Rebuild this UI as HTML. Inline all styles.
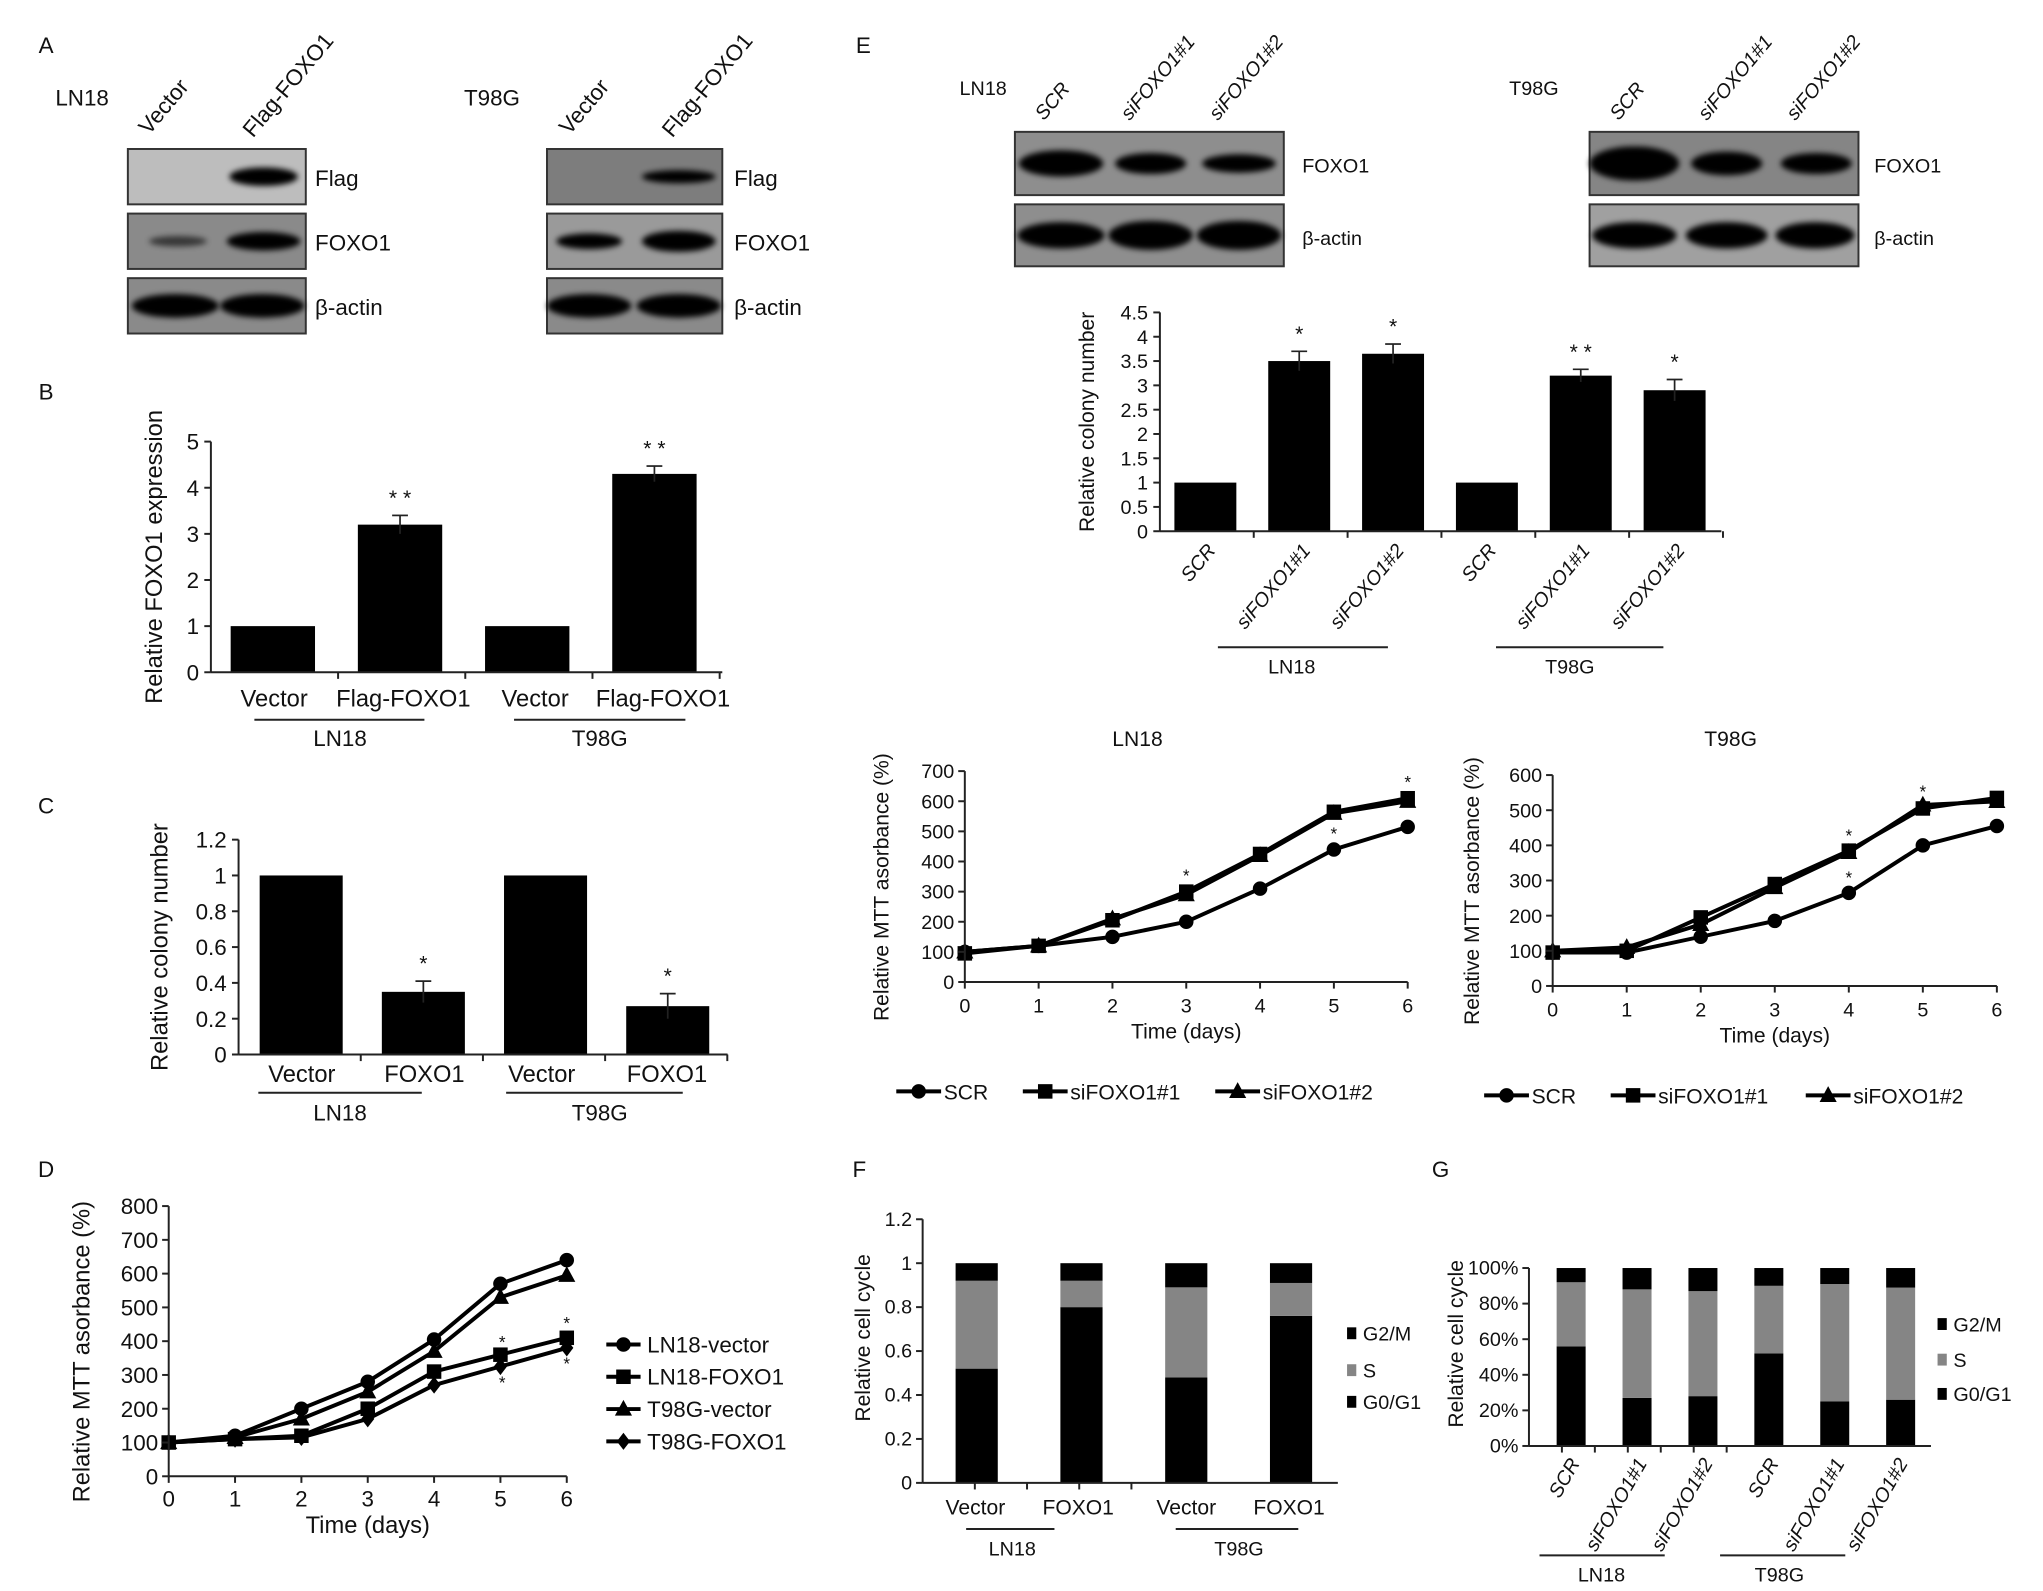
<!DOCTYPE html>
<html><head><meta charset="utf-8"><style>
html,body{margin:0;padding:0;background:#fff;}
svg{display:block;font-family:"Liberation Sans",Arial,sans-serif;}
</style></head><body>
<svg id="fig" width="2043" height="1591" viewBox="0 0 1550 1207" xmlns="http://www.w3.org/2000/svg">
<defs><filter id="blur" x="-20%" y="-50%" width="140%" height="200%"><feGaussianBlur stdDeviation="2.2"/></filter></defs>
</svg>
<script>
// ---------- DATA ----------
const bCats = ["Vector","Flag-FOXO1","Vector","Flag-FOXO1"];
const bVals = [1, 3.2, 1, 4.3];
const bErr = [0, 0.2, 0, 0.17];
const bTicks = [0,1,2,3,4,5];

const cCats = ["Vector","FOXO1","Vector","FOXO1"];
const cVals = [1, 0.35, 1, 0.27];
const cErr = [0, 0.06, 0, 0.07];
const cTicks = ["0","0.2","0.4","0.6","0.8","1","1.2"];

const eCats = ["SCR","siFOXO1#1","siFOXO1#2","SCR","siFOXO1#1","siFOXO1#2"];
const eVals = [1, 3.5, 3.65, 1, 3.2, 2.9];
const eErr = [0, 0.2, 0.2, 0, 0.13, 0.22];
const eStars = ["", "*", "*", "", "* *", "*"];
const eTicks = ["0","0.5","1","1.5","2","2.5","3","3.5","4","4.5"];

const days = [0,1,2,3,4,5,6];
const dNames = ["LN18-vector","LN18-FOXO1","T98G-vector","T98G-FOXO1"];
const dLN18vec = [100,120,200,280,405,570,640];
const dLN18foxo = [100,110,120,200,310,360,410];
const dT98Gvec = [100,115,170,250,370,530,595];
const dT98Gfoxo = [100,110,115,170,270,325,380];
const dTicks = [0,100,200,300,400,500,600,700,800];

const mNames = ["SCR","siFOXO1#1","siFOXO1#2"];
const mLnSCR = [100,120,150,200,310,440,515];
const mLnSi1 = [95,120,205,300,425,565,610];
const mLnSi2 = [100,120,210,290,420,560,600];
const mLnTicks = [0,100,200,300,400,500,600,700];
const mTgSCR = [95,95,140,185,265,400,455];
const mTgSi1 = [95,100,195,290,385,505,535];
const mTgSi2 = [100,110,175,280,380,515,525];
const mTgTicks = [0,100,200,300,400,500,600];

const fCats = ["Vector","FOXO1","Vector","FOXO1"];
const fG0 = [0.52, 0.80, 0.48, 0.76];
const fS = [0.40, 0.12, 0.41, 0.15];
const fG2 = [0.08, 0.08, 0.11, 0.09];
const fTicks = ["0","0.2","0.4","0.6","0.8","1","1.2"];

const gCats = ["SCR","siFOXO1#1","siFOXO1#2","SCR","siFOXO1#1","siFOXO1#2"];
const gG0 = [56, 27, 28, 52, 25, 26];
const gS = [36, 61, 59, 38, 66, 63];
const gG2 = [8, 12, 13, 10, 9, 11];
const gTicks = ["0%","20%","40%","60%","80%","100%"];
const phases = ["G2/M","S","G0/G1"];

// ---------- HELPERS ----------
const NS = "http://www.w3.org/2000/svg";
const svg = document.getElementById("fig");
function mk(tag, attrs, parent){
  const e = document.createElementNS(NS, tag);
  for (const k in attrs) e.setAttribute(k, attrs[k]);
  (parent || svg).appendChild(e);
  return e;
}
function txt(x, y, s, size, anchor, rot, extra){
  const a = {x:x, y:y, "font-size":size, "text-anchor":anchor||"middle", fill:"#111"};
  if (rot) a.transform = "rotate(" + rot + " " + x + " " + y + ")";
  if (extra) for (const k in extra) a[k] = extra[k];
  const e = mk("text", a);
  e.textContent = s;
  return e;
}
function ln(x1,y1,x2,y2,w,col){
  return mk("line",{x1:x1,y1:y1,x2:x2,y2:y2,stroke:col||"#222","stroke-width":w||1.5});
}
function marker(type, x, y, g){
  let e;
  if (type === "circle") e = mk("circle",{cx:x,cy:y,r:5.5,fill:"#000"},g);
  else if (type === "square") e = mk("rect",{x:x-5.5,y:y-5.5,width:11,height:11,fill:"#000"},g);
  else if (type === "triangle") e = mk("polygon",{points:(x)+","+(y-7)+" "+(x-6.5)+","+(y+5)+" "+(x+6.5)+","+(y+5),fill:"#000"},g);
  else e = mk("polygon",{points:(x)+","+(y-6.5)+" "+(x+5)+","+(y)+" "+(x)+","+(y+6.5)+" "+(x-5)+","+(y),fill:"#000"},g);
  return e;
}

// ---------- PANEL LETTERS ----------
const letters = [["A",35,40],["B",35,303],["C",35,617],["D",35,893],["E",655,40],["F",652,893],["G",1093,893]];
for (const L of letters){
  const e = txt(L[1], L[2], L[0], 17, "middle");
  
  
}

// ---------- BLOTS ----------
function blot(x, y, w, h, bg, bands, name){
  const g = mk("g", {});
  
  
  mk("rect",{x:x,y:y,width:w,height:h,fill:bg,stroke:"#333","stroke-width":1.5},g);
  for (const b of bands){
    if (b[2] <= 0) continue;
    mk("ellipse",{cx:b[0],cy:y+h/2,rx:b[1],ry:b[2],fill:"#000",opacity:b[3]||1,filter:"url(#blur)"},g);
  }
  return g;
}
// Panel A
let e;
e = txt(42, 80, "LN18", 17, "start");  
e = txt(113, 103, "Vector", 17, "start", -50);  
e = txt(192, 105, "Flag-FOXO1", 17, "start", -50);  
blot(97,113,135,42,"#bdbdbd",[[200,26,7]],"a-ln18-flag-blot");
blot(97,162,135,42,"#8a8a8a",[[135,22,4,0.6],[200,28,7]],"a-ln18-foxo1-blot");
blot(97,211,135,42,"#8a8a8a",[[133,33,9],[199,32,9]],"a-ln18-actin-blot");
e = txt(239,141,"Flag",17,"start");  
e = txt(239,190,"FOXO1",17,"start");  
e = txt(239,239,"β-actin",17,"start");  
e = txt(352, 80, "T98G", 17, "start");  
e = txt(432, 103, "Vector", 17, "start", -50);  
e = txt(510, 105, "Flag-FOXO1", 17, "start", -50);  
blot(415,113,133,42,"#7d7d7d",[[515,28,5]],"a-t98g-flag-blot");
blot(415,162,133,42,"#9a9a9a",[[447,25,6],[515,28,8]],"a-t98g-foxo1-blot");
blot(415,211,133,42,"#8a8a8a",[[447,32,9],[515,32,9]],"a-t98g-actin-blot");
e = txt(557,141,"Flag",17,"start");  
e = txt(557,190,"FOXO1",17,"start");  
e = txt(557,239,"β-actin",17,"start");  

// Panel E blots
e = txt(728, 72, "LN18", 15, "start");  
e = txt(1145, 72, "T98G", 15, "start");  
const eLaneX = [[792,857,924],[1228,1295,1362]];
for (const grp of eLaneX){
  for (let i=0;i<3;i++){
    e = txt(grp[i], 92, mNames[i], 15, "start", -50, {"font-style":"italic"});
    
    
  }
}
blot(770,100,204,48,"#8e8e8e",[[805,32,10],[873,27,8],[940,28,7]],"e-ln18-foxo1-blot");
blot(770,155,204,47,"#8e8e8e",[[805,33,10],[873,32,11],[940,32,11]],"e-ln18-actin-blot");
blot(1206,100,204,48,"#858585",[[1240,34,13],[1310,27,9],[1378,27,8]],"e-t98g-foxo1-blot");
blot(1206,155,204,47,"#a0a0a0",[[1240,32,10],[1310,31,10],[1377,30,10]],"e-t98g-actin-blot");
e = txt(988,131,"FOXO1",15,"start");  
e = txt(988,186,"β-actin",15,"start");  
e = txt(1422,131,"FOXO1",15,"start");  
e = txt(1422,186,"β-actin",15,"start");  

// ---------- GENERIC BAR CHART ----------
function barChart(o){
  const g = mk("g", {});
  
  
  const y = v => o.y0 - (v - 0) / o.max * (o.y0 - o.yTop);
  const x = i => o.x0 + o.pad + i * o.step;
  ln(o.x0, o.y0, o.x1, o.y0, 1.5);
  ln(o.x0, o.y0, o.x0, o.yTop, 1.5);
  for (let k=0;k<o.ticks.length;k++){
    const v = k * o.max / (o.ticks.length-1);
    ln(o.x0-5, y(v), o.x0, y(v), 1.5);
    const t = txt(o.x0-9, y(v)+o.fs*0.36, o.ticks[k], o.fs, "end");
    
    
  }
  for (let i=0;i<=o.vals.length;i++){
    const tx = o.x0 + i*o.step;
    if (i>0) ln(tx, o.y0, tx, o.y0+5, 1.5);
  }
  for (let i=0;i<o.vals.length;i++){
    const b = mk("rect",{x:x(i),y:y(o.vals[i]),width:o.bw,height:o.y0-y(o.vals[i]),fill:"#000"},g);
    
    
    if (o.err[i] > 0){
      const cx = x(i)+o.bw/2;
      ln(cx, y(o.vals[i]+o.err[i]), cx, y(o.vals[i]-o.err[i]), 1.3);
      ln(cx-6, y(o.vals[i]+o.err[i]), cx+6, y(o.vals[i]+o.err[i]), 1.3);
      const st = txt(cx, y(o.vals[i]+o.err[i])-8, o.stars[i], 16, "middle");
      
      
    }
  }
  const yt = txt(o.ytX, (o.y0+o.yTop)/2, o.ytitle, o.fs+1, "middle", -90);
  
  
  return {x:x, y:y};
}

// Panel B
barChart({name:"panel-b-chart", x0:160, x1:548, y0:510, yTop:335, max:5, ticks:bTicks.map(String), vals:bVals, err:bErr,
  stars:["","* *","","* *"], pad:15, step:96.5, bw:64, fs:17, ytX:123, ytitle:"Relative FOXO1 expression"});
const bLx = [208,306,406,503];
for (let i=0;i<bCats.length;i++){ e = txt(bLx[i], 536, bCats[i], 18, "middle");   }
ln(193,546,322,546,1.5); ln(390,546,520,546,1.5);
e = txt(258,566,"LN18",17);  
e = txt(455,566,"T98G",17);  

// Panel C
barChart({name:"panel-c-chart", x0:181, x1:552, y0:800, yTop:637, max:1.2, ticks:cTicks, vals:cVals, err:cErr,
  stars:["","*","","*"], pad:16, step:92.7, bw:63, fs:17, ytX:127, ytitle:"Relative colony number"});
const cLx = [229,322,411,506];
for (let i=0;i<cCats.length;i++){ e = txt(cLx[i], 821, cCats[i], 18, "middle");   }
ln(196,829,320,829,1.5); ln(384,829,518,829,1.5);
e = txt(258,850,"LN18",17);  
e = txt(455,850,"T98G",17);  

// Panel E bar chart
barChart({name:"panel-e-chart", x0:880, x1:1306, y0:403, yTop:237, max:4.5, ticks:eTicks, vals:eVals, err:eErr,
  stars:eStars, pad:11, step:71.2, bw:47, fs:15, ytX:830, ytitle:"Relative colony number"});
const eLx = [915,987,1058,1128,1199,1271];
for (let i=0;i<eCats.length;i++){ e = txt(eLx[i]+8, 418, eCats[i], 15, "end", -50, {"font-style":"italic"});   }
ln(924,491,1053,491,1.5); ln(1135,491,1262,491,1.5);
e = txt(980,511,"LN18",15);  
e = txt(1191,511,"T98G",15);  

// ---------- LINE CHARTS ----------
function lineChart(o){
  const g = mk("g", {});
  
  
  const x = d => o.x0 + d/6 * (o.x1 - o.x0);
  const y = v => o.y0 - v/o.max * (o.y0 - o.yTop);
  ln(o.x0, o.y0, o.x1, o.y0, 1.5);
  ln(o.x0, o.y0, o.x0, o.yTop, 1.5);
  for (const t of o.ticks){
    ln(o.x0-5, y(t), o.x0, y(t), 1.5);
    const tl = txt(o.x0-8, y(t)+o.fs*0.36, String(t), o.fs, "end");
    
    
  }
  for (const d of days){
    ln(x(d), o.y0, x(d), o.y0+5, 1.5);
    const tl = txt(x(d), o.y0+23, String(d), o.fs, "middle");
    
    
  }
  for (let s=0;s<o.series.length;s++){
    const pts = days.map((d,i)=> x(d)+","+y(o.series[s][i])).join(" ");
    const pl = mk("polyline",{points:pts,fill:"none",stroke:"#000","stroke-width":3},g);
    
    
    for (let i=0;i<days.length;i++){
      const m = marker(o.markers[s], x(days[i]), y(o.series[s][i]), g);
      
      
    }
  }
  const yt = txt(o.ytX, (o.y0+o.yTop)/2 + 8, "Relative MTT asorbance (%)", o.fs+1, "middle", -90);
  
  
  const xt = txt((o.x0+o.x1)/2, o.y0+43, "Time (days)", o.fs+1, "middle");
  
  
  return {x:x, y:y};
}

// Panel D
const dAx = lineChart({name:"panel-d-chart", x0:128, x1:430, y0:1120, yTop:915, max:800, ticks:dTicks, fs:17, ytX:68,
  series:[dLN18vec,dLN18foxo,dT98Gvec,dT98Gfoxo], names:dNames, markers:["circle","square","triangle","diamond"]});
const dMk = ["circle","square","triangle","diamond"];
for (let i=0;i<dNames.length;i++){
  const yy = 1020 + i*24.5;
  ln(460, yy, 486, yy, 3, "#000");
  const m = marker(dMk[i], 473, yy);
  
  
  e = txt(491, yy+6, dNames[i], 17, "start");
  
  
}
// stars D
for (const s of [[381,dLN18foxo[5]+40],[430,dLN18foxo[6]+45],[381,dT98Gfoxo[5]-45],[430,dT98Gfoxo[6]-45]]){
  e = txt(s[0], dAx.y(s[1])+5, "*", 13);  
}

// LN18 MTT
const lnAx = lineChart({name:"mtt-ln18-chart", x0:732, x1:1068, y0:745, yTop:585, max:700, ticks:mLnTicks, fs:15, ytX:674,
  series:[mLnSCR,mLnSi1,mLnSi2], names:mNames, markers:["circle","square","triangle"]});
e = txt(863,566,"LN18",16);  
for (const s of [[3,mLnSi1[3]+55],[5,mLnSCR[5]+55],[6,mLnSi1[6]+55]]){
  e = txt(lnAx.x(s[0]), lnAx.y(s[1])+5, "*", 13);  
}
// T98G MTT
const tgAx = lineChart({name:"mtt-t98g-chart", x0:1178, x1:1515, y0:748, yTop:588, max:600, ticks:mTgTicks, fs:15, ytX:1122,
  series:[mTgSCR,mTgSi1,mTgSi2], names:mNames, markers:["circle","square","triangle"]});
e = txt(1313,566,"T98G",16);  
for (const s of [[4,mTgSi1[4]+45],[4,mTgSCR[4]+45],[5,mTgSi1[5]+50]]){
  e = txt(tgAx.x(s[0]), tgAx.y(s[1])+5, "*", 13);  
}
const mMk = ["circle","square","triangle"];
const lgX = [[680,718],[776,808],[922,963],[1126,1163],[1222,1262],[1370,1412]];
for (let p=0;p<2;p++){
  const yy = p===0 ? 828 : 831;
  for (let i=0;i<3;i++){
    const xs = lgX[p*3+i];
    ln(xs[0], yy, xs[0]+34, yy, 3, "#000");
    const m = marker(mMk[i], xs[0]+17, yy);
    
    
    e = txt(xs[0]+36, yy+6, mNames[i], 16, "start");
    
    
  }
}

// ---------- STACKED BARS ----------
function stackChart(o){
  const g = mk("g", {});
  
  
  const y = v => o.y0 - v/o.max * (o.y0 - o.yTop);
  const x = i => o.x0 + o.pad + i*o.step;
  ln(o.x0, o.y0, o.x1, o.y0, 1.5);
  ln(o.x0, o.y0, o.x0, o.yTop, 1.5);
  for (let k=0;k<o.ticks.length;k++){
    const v = k*o.max/(o.ticks.length-1);
    ln(o.x0-5, y(v), o.x0, y(v), 1.5);
    const tl = txt(o.x0-8, y(v)+5, o.ticks[k], o.fs, "end");
    
    
  }
  for (let i=1;i<=o.g0.length;i++) ln(o.x0 + i*o.tickStep, o.y0, o.x0 + i*o.tickStep, o.y0+5, 1.5);
  for (let i=0;i<o.g0.length;i++){
    const segs = [[o.g0[i],"#000","g0g1"],[o.s[i],"#858585","s"],[o.g2[i],"#000","g2m"]];
    let base = 0;
    for (const sg of segs){
      const r = mk("rect",{x:x(i),y:y(base+sg[0]),width:o.bw,height:y(base)-y(base+sg[0]),fill:sg[1]},g);
      
      
      base += sg[0];
    }
  }
  const yt = txt(o.ytX, (o.y0+o.yTop)/2 - 10, "Relative cell cycle", o.fs+1, "middle", -90);
  
  
  const cols = ["#000","#858585","#000"];
  for (let i=0;i<3;i++){
    const ly = o.legY[i];
    const sq = mk("rect",{x:o.legX,y:ly-10,width:7,height:9,fill:cols[i]});
    
    
    e = txt(o.legX+12, ly, phases[i], o.fs, "start");
    
    
  }
  return {x:x, y:y};
}
stackChart({name:"panel-f-chart", x0:700, x1:1015, y0:1125, yTop:925, max:1.2, ticks:fTicks, g0:fG0, s:fS, g2:fG2,
  pad:25, step:79.5, bw:32, tickStep:39.6, fs:15, ytX:660, legX:1022, legY:[1017,1045,1069]});
const fLx = [740,818,900,978];
for (let i=0;i<fCats.length;i++){ e = txt(fLx[i], 1149, fCats[i], 16);   }
ln(733,1160,800,1160,1.5); ln(892,1160,985,1160,1.5);
e = txt(768,1180,"LN18",15);  
e = txt(940,1180,"T98G",15);  

stackChart({name:"panel-g-chart", x0:1160, x1:1465, y0:1097, yTop:962, max:100, ticks:gTicks, g0:gG0, s:gS, g2:gG2,
  pad:21, step:50, bw:22, tickStep:25, fs:15, ytX:1110, legX:1470, legY:[1010,1037,1063]});
const gLx = [1192,1243,1293,1343,1393,1441];
for (let i=0;i<gCats.length;i++){ e = txt(gLx[i]+7, 1110, gCats[i], 15, "end", -60, {"font-style":"italic"});   }
ln(1168,1180,1263,1180,1.5); ln(1305,1180,1400,1180,1.5);
e = txt(1215,1200,"LN18",15);  
e = txt(1350,1200,"T98G",15);  
</script>
</body></html>
